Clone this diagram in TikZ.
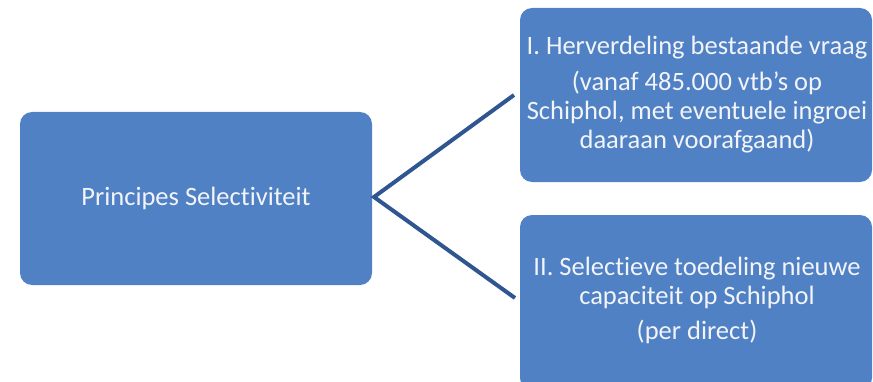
\documentclass[tikz,border=0pt]{standalone}
\usepackage{fontspec}
\setmainfont{Carlito}[Ligatures=NoCommon]
\definecolor{boxblue}{RGB}{80,129,196}
\definecolor{lineblue}{RGB}{48,86,146}
\definecolor{txt}{RGB}{242,244,248}
\begin{document}
\begin{tikzpicture}[x=1pt,y=1pt,
  bluebox/.style={fill=boxblue,rounded corners=12pt,inner sep=0pt},
  boxtext/.style={text=txt,align=center,font=\fontsize{26.5}{29}\selectfont,inner sep=0pt},
  conn/.style={draw=lineblue,line width=4pt}]
\useasboundingbox (0,0) rectangle (873,381);
% y_tikz = 381 - y_img
\node[bluebox,minimum width=352pt,minimum height=173pt] (main) at (196,182.5) {};
\node[boxtext] (maintext) at (main.center) {Principes Selectiviteit};
\node[bluebox,minimum width=352pt,minimum height=174pt] (top) at (696,286) {};
\node[boxtext] (toptext) at (697,286) {I. Herverdeling bestaande vraag\\[7pt](vanaf 485.000 vtb’s op\\Schiphol, met eventuele ingroei\\daaraan voorafgaand)};
\node[bluebox,minimum width=352pt,minimum height=175pt] (bot) at (696,78.5) {};
\node[boxtext] (bottext) at (697,81) {II. Selectieve toedeling nieuwe\\capaciteit op Schiphol\\[6pt](per direct)};
\coordinate (v) at (374,184);
\coordinate (e1) at (514,286);
\coordinate (e2) at (515,83);
\draw[conn] (e1) -- (v) -- (e2);
\end{tikzpicture}
\end{document}
